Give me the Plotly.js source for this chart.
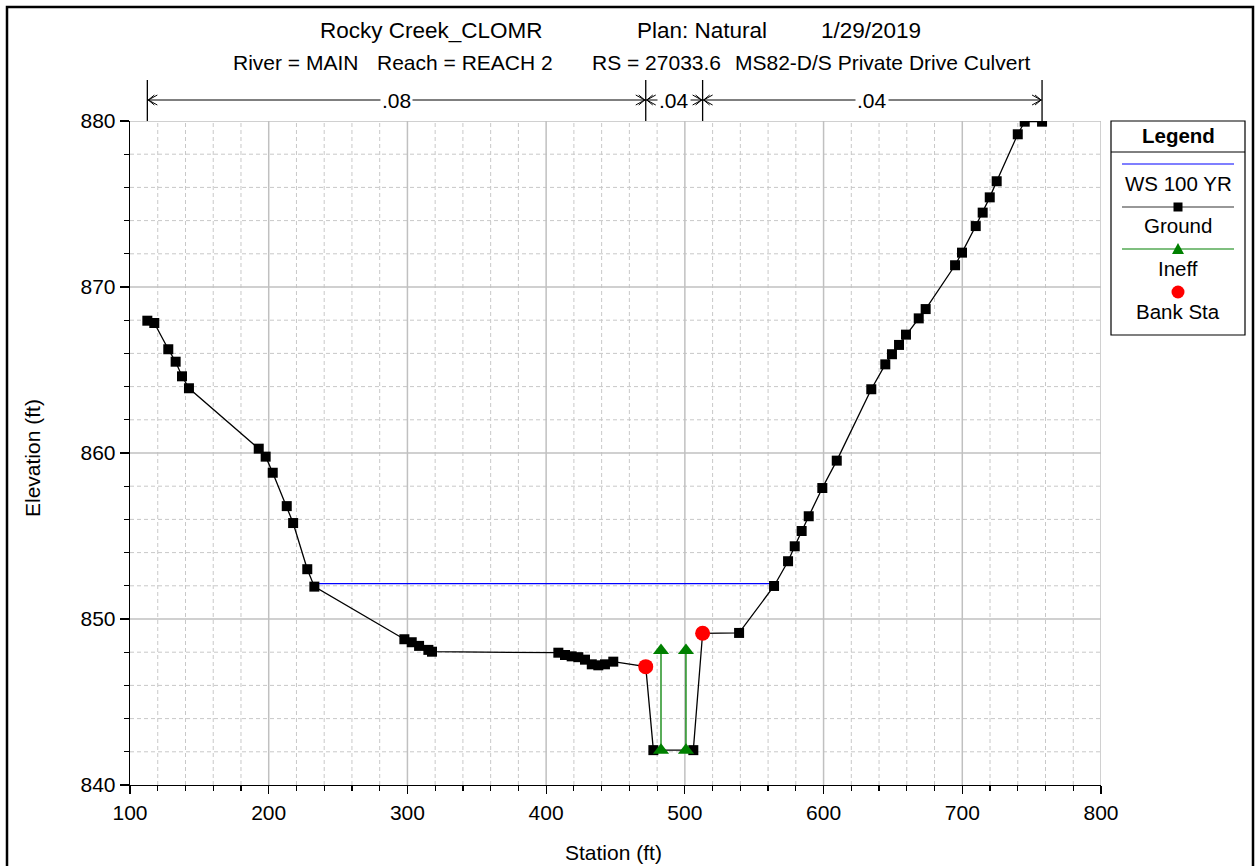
<!DOCTYPE html>
<html>
<head>
<meta charset="utf-8">
<script src="https://cdn.plot.ly/plotly-3.0.1.min.js"></script>
<style>html,body{margin:0;padding:0;background:#fff;}#chart{width:1255px;height:866px;}</style>
</head>
<body>
<div id="chart"></div>
<script>
// ---------- data ----------
const groundStation = [112.5,117.5,127.6,132.9,137.5,142.5,192.8,197.8,202.9,213.0,217.6,227.8,232.9,
  297.8,303.1,308.4,315.1,317.7,408.8,413.6,418.4,423.2,428.0,432.9,437.6,442.4,448.4,471.8,
  477.3,506.1,512.8,539.1,564.3,574.4,579.2,584.2,589.3,599.1,609.5,634.4,644.5,649.3,654.4,
  659.4,668.6,673.6,694.8,699.8,709.7,714.7,719.8,724.8,740.0,745.0,757.5];
const groundElev = [867.97,867.83,866.25,865.50,864.62,863.90,860.26,859.78,858.81,856.80,855.78,853.00,851.95,
  848.78,848.60,848.38,848.14,848.03,847.97,847.83,847.75,847.70,847.55,847.27,847.21,847.27,847.43,847.13,
  842.10,842.10,849.14,849.16,851.99,853.48,854.38,855.30,856.19,857.89,859.54,863.84,865.34,865.95,866.51,
  867.13,868.11,868.67,871.31,872.07,873.67,874.48,875.40,876.37,879.20,879.96,879.96];
const wsStation = [232.9, 564.3];
const wsElev = [852.13, 852.13];
const ineffStation = [482.8, 482.8, null, 500.8, 500.8];
const ineffElev = [842.1, 848.1, null, 848.1, 842.1];
const bankStation = [471.8, 512.8];
const bankElev = [847.13, 849.14];
const nStations = [112.5, 471.8, 512.8, 757.5];
const nValues = ['.08', '.04', '.04'];
const xTicks = [100,200,300,400,500,600,700,800];
const yTicks = [840,850,860,870,880];
const titleParts = ['Rocky Creek_CLOMR', 'Plan: Natural', '1/29/2019'];
const subtitleParts = ['River = MAIN', 'Reach = REACH 2', 'RS = 27033.6', 'MS82-D/S Private Drive Culvert'];
const legendNames = ['WS 100 YR', 'Ground', 'Ineff', 'Bank Sta'];

// ---------- layout helpers (pixel -> paper) ----------
const L = 130, R = 1101, T = 121, B = 785;
const PX = p => (p - L) / (R - L);
const PY = p => (B - p) / (B - T);
const FONT = 'Liberation Sans, Arial, sans-serif';
const FS = 21;

// minor tick positions (excluding major ones)
const xMinor = [], yMinor = [];
for (let v = 100; v <= 800; v += 20) if (v % 100 !== 0) xMinor.push(v);
for (let v = 840; v <= 880; v += 2) if (v % 10 !== 0) yMinor.push(v);

const traces = [
  {x: wsStation, y: wsElev, mode: 'lines', name: legendNames[0],
   line: {color: '#0000ff', width: 1.3}, showlegend: false},
  {x: groundStation, y: groundElev, mode: 'lines+markers', name: legendNames[1],
   line: {color: '#000000', width: 1.3}, marker: {symbol: 'square', size: 10, color: '#000000'},
   showlegend: false},
  {x: ineffStation, y: ineffElev, mode: 'lines+markers', name: legendNames[2],
   line: {color: '#008000', width: 1.3}, marker: {symbol: 'triangle-up', size: 14, color: '#008000'},
   connectgaps: false, showlegend: false},
  {x: bankStation, y: bankElev, mode: 'markers', name: legendNames[3],
   marker: {symbol: 'circle', size: 15, color: '#ff0000'}, showlegend: false}
];

const shapes = [];
const annotations = [];

// minor dashed grid
xMinor.forEach(v => shapes.push({type: 'line', xref: 'x', yref: 'y', x0: v, x1: v, y0: 840, y1: 880,
  layer: 'below', line: {color: '#c8c8c8', width: 1, dash: '4px,3px'}}));
yMinor.forEach(v => shapes.push({type: 'line', xref: 'x', yref: 'y', x0: 100, x1: 800, y0: v, y1: v,
  layer: 'below', line: {color: '#c8c8c8', width: 1, dash: '4px,3px'}}));
// major solid grid
xTicks.slice(1).forEach(v => shapes.push({type: 'line', xref: 'x', yref: 'y', x0: v, x1: v, y0: 840, y1: 880,
  layer: 'below', line: {color: '#c0c0c0', width: 1.5}}));
yTicks.slice(1).forEach(v => shapes.push({type: 'line', xref: 'x', yref: 'y', x0: 100, x1: 800, y0: v, y1: v,
  layer: 'below', line: {color: '#c0c0c0', width: 1.5}}));

// outer frame
shapes.push({type: 'rect', xref: 'paper', yref: 'paper', x0: PX(7), x1: PX(1253), y0: PY(872), y1: PY(7),
  line: {color: '#000', width: 2.5}, layer: 'below'});

// n-value dimension lines
const yArrowPx = 100;
nStations.forEach(s => {
  shapes.push({type: 'line', xref: 'x', yref: 'paper', x0: s, x1: s, y0: PY(121), y1: PY(80),
    line: {color: '#000', width: 1.3}});
});
for (let i = 0; i < nValues.length; i++) {
  const a = nStations[i], b = nStations[i + 1];
  shapes.push({type: 'line', xref: 'x', yref: 'paper', x0: a, x1: b, y0: PY(yArrowPx), y1: PY(yArrowPx),
    line: {color: '#000', width: 1}});
  shapes.push({type: 'path', xref: 'x', yref: 'paper', xsizemode: 'pixel', ysizemode: 'pixel',
    xanchor: a, yanchor: PY(yArrowPx), path: 'M 10,5 L 1,0 L 10,-5 M 7,5 L 1,0 L 7,-5',
    line: {color: '#000', width: 1}});
  shapes.push({type: 'path', xref: 'x', yref: 'paper', xsizemode: 'pixel', ysizemode: 'pixel',
    xanchor: b, yanchor: PY(yArrowPx), path: 'M -10,5 L -1,0 L -10,-5 M -7,5 L -1,0 L -7,-5',
    line: {color: '#000', width: 1}});
  annotations.push({xref: 'x', yref: 'paper', x: (a + b) / 2, y: PY(yArrowPx), text: nValues[i],
    showarrow: false, bgcolor: '#ffffff', borderpad: 1, font: {family: FONT, size: FS, color: '#000'},
    xanchor: 'center', yanchor: 'middle'});
}

// title & subtitle
const titleLeft = [318, 635, 819];
titleParts.forEach((t, i) => annotations.push({xref: 'paper', yref: 'paper', x: PX(titleLeft[i]), y: PY(30),
  text: t, showarrow: false, xanchor: 'left', yanchor: 'middle', font: {family: FONT, size: 22.5, color: '#000'}}));
const subLeft = [231, 375, 590, 733];
subtitleParts.forEach((t, i) => annotations.push({xref: 'paper', yref: 'paper', x: PX(subLeft[i]), y: PY(62),
  text: t, showarrow: false, xanchor: 'left', yanchor: 'middle', font: {family: FONT, size: 21, color: '#000'}}));

// axis titles
annotations.push({xref: 'paper', yref: 'paper', x: PX(613), y: PY(852), text: 'Station (ft)', showarrow: false,
  xanchor: 'center', yanchor: 'middle', font: {family: FONT, size: FS, color: '#000'}});
annotations.push({xref: 'paper', yref: 'paper', x: PX(32), y: PY(458), text: 'Elevation (ft)', showarrow: false,
  textangle: -90, xanchor: 'center', yanchor: 'middle', font: {family: FONT, size: FS, color: '#000'}});

// ---------- custom legend ----------
const lgL = 1111, lgR = 1245, lgT = 121, lgB = 335, lgC = 1178;
shapes.push({type: 'rect', xref: 'paper', yref: 'paper', x0: PX(lgL), x1: PX(lgR), y0: PY(lgB), y1: PY(lgT),
  line: {color: '#000', width: 1.2}, fillcolor: '#fff'});
shapes.push({type: 'line', xref: 'paper', yref: 'paper', x0: PX(lgL), x1: PX(lgR), y0: PY(152), y1: PY(152),
  line: {color: '#000', width: 1}});
annotations.push({xref: 'paper', yref: 'paper', x: PX(lgC), y: PY(135), text: '<b>Legend</b>', showarrow: false,
  xanchor: 'center', yanchor: 'middle', font: {family: FONT, size: 20.5, color: '#000'}});
const lgLineY = [164, 207, 249, 292];
const lgTextY = [184, 226, 268, 311];
const lgColors = ['#0000ff', '#333333', '#008000', null];
legendNames.forEach((n, i) => {
  if (lgColors[i]) shapes.push({type: 'line', xref: 'paper', yref: 'paper', x0: PX(1122), x1: PX(1234),
    y0: PY(lgLineY[i]), y1: PY(lgLineY[i]), line: {color: lgColors[i], width: 1.2}});
  annotations.push({xref: 'paper', yref: 'paper', x: PX(lgC), y: PY(lgTextY[i]), text: n, showarrow: false,
    xanchor: 'center', yanchor: 'middle', font: {family: FONT, size: 20.5, color: '#000'}});
});
// legend markers
shapes.push({type: 'rect', xref: 'paper', yref: 'paper', xsizemode: 'pixel', ysizemode: 'pixel',
  xanchor: PX(lgC), yanchor: PY(207), x0: -4.5, x1: 4.5, y0: -4.5, y1: 4.5, fillcolor: '#000', line: {width: 0}});
shapes.push({type: 'path', xref: 'paper', yref: 'paper', xsizemode: 'pixel', ysizemode: 'pixel',
  xanchor: PX(lgC), yanchor: PY(249), path: 'M -6,-5 L 6,-5 L 0,6 Z', fillcolor: '#008000', line: {width: 0}});
shapes.push({type: 'circle', xref: 'paper', yref: 'paper', xsizemode: 'pixel', ysizemode: 'pixel',
  xanchor: PX(lgC), yanchor: PY(292), x0: -6.5, x1: 6.5, y0: -6.5, y1: 6.5, fillcolor: '#ff0000', line: {width: 0}});

const layout = {
  width: 1255, height: 866,
  margin: {l: L, r: 1255 - R, t: T, b: 866 - B, pad: 0},
  paper_bgcolor: '#ffffff', plot_bgcolor: '#ffffff',
  showlegend: false,
  font: {family: FONT, size: FS, color: '#000'},
  xaxis: {
    range: [100, 800], tickmode: 'array', tickvals: xTicks, ticktext: xTicks.map(String),
    showline: true, linecolor: '#000', linewidth: 1.3,
    ticks: 'outside', ticklen: 8, tickcolor: '#000', tickwidth: 1.2,
    showgrid: false, zeroline: false,
    minor: {tickmode: 'array', tickvals: xMinor, showgrid: false,
            ticks: 'outside', ticklen: 5, tickcolor: '#000'},
    tickfont: {family: FONT, size: FS, color: '#000'}, fixedrange: true
  },
  yaxis: {
    range: [840, 880], tickmode: 'array', tickvals: yTicks, ticktext: yTicks.map(String),
    showline: true, linecolor: '#000', linewidth: 1.3,
    ticks: 'outside', ticklen: 9, tickcolor: '#000', tickwidth: 1.2,
    showgrid: false, zeroline: false,
    minor: {tickmode: 'array', tickvals: yMinor, showgrid: false,
            ticks: 'outside', ticklen: 5, tickcolor: '#000'},
    tickfont: {family: FONT, size: FS, color: '#000'}, fixedrange: true
  },
  shapes: shapes,
  annotations: annotations
};

Plotly.newPlot('chart', traces, layout, {displayModeBar: false, staticPlot: true});
</script>
</body>
</html>
